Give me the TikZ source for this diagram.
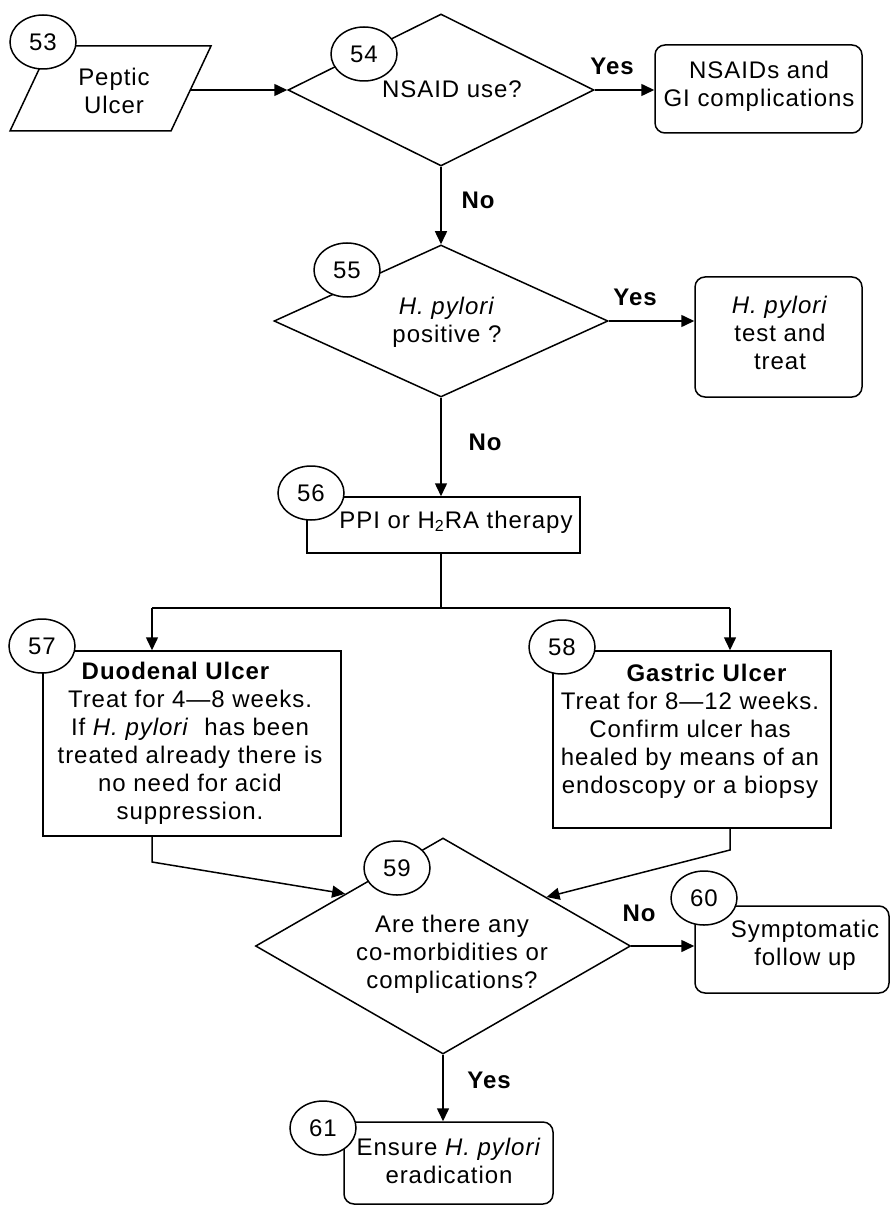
\documentclass[tikz,border=0pt]{standalone}
\usepackage{fontspec}
\setmainfont{Liberation Sans}[LetterSpace=4]
\usetikzlibrary{shapes.geometric,arrows.meta,calc}
\begin{document}
\begin{tikzpicture}[x=0.5pt,y=-0.5pt,
  line width=0.75pt,
  every node/.style={font=\fontsize{12}{14}\selectfont},
  txt/.style={align=center, inner sep=0pt},
  lbl/.style={font=\fontsize{12}{14}\selectfont\bfseries, inner sep=0pt},
  dec/.style={diamond, draw, inner sep=0pt},
  flowbox/.style={rectangle, draw, inner sep=0pt},
  rbox/.style={rectangle, draw, rounded corners=5pt, inner sep=0pt},
  num/.style={ellipse, draw, fill=white, inner sep=0pt, minimum width=33pt, minimum height=27pt},
  arr/.style={-{Triangle[length=6.5pt,width=6pt]}},
]
\useasboundingbox (0,0) rectangle (892,1208);

% shapes
\draw (10,131) -- (50,46) -- (211,46) -- (171,131) -- cycle;
\coordinate (p53) at (190,90);
\node[dec, minimum width=153pt, minimum height=76pt] (d54) at (441,90) {};
\node[rbox, minimum width=103.5pt, minimum height=44pt] (r54) at (758.5,89) {};
\node[dec, minimum width=167pt, minimum height=76pt] (d55) at (441,321) {};
\node[rbox, minimum width=83.5pt, minimum height=60pt] (r55) at (778.5,337) {};
\node[flowbox, minimum width=136.5pt, minimum height=28pt] (b56) at (443.5,525) {};
\node[flowbox, minimum width=149pt, minimum height=92.5pt] (b57) at (192,743.5) {};
\node[flowbox, minimum width=139pt, minimum height=88.5pt] (b58) at (692,739.5) {};
\node[dec, minimum width=187.5pt, minimum height=108pt] (d59) at (443,946) {};
\node[rbox, minimum width=97pt, minimum height=43.5pt] (r60) at (792,949.5) {};
\node[rbox, minimum width=104.5pt, minimum height=41pt] (r61) at (448.5,1163) {};

% texts
\node[txt] (t53) at (114,91) {Peptic\\Ulcer};
\node[txt] (t54) at (452,89) {NSAID use?};
\node[txt] (t54y) at (759,86) {NSAIDs and\\GI complications};
\node[txt] (t55) at (447,322) {\textit{H. pylori}\\positive ?};
\node[txt] (t55y) at (780,333) {\textit{H. pylori}\\test and\\treat};
\node[txt] (t56) at (456,522) {PPI or H\textsubscript{2}RA therapy};
\node[txt] (t57) at (190,743) {\textbf{Duodenal Ulcer}\hspace*{14pt}\\Treat for 4\textemdash 8 weeks.\\If \textit{H. pylori}\ \ has been\\treated already there is\\no need for acid\\suppression.};
\node[txt] (t58) at (690,731) {\hspace*{17pt}\textbf{Gastric Ulcer}\\Treat for 8\textemdash 12 weeks.\\Confirm ulcer has\\healed by means of an\\endoscopy\ or a biopsy};
\node[txt] (t59) at (452,954) {Are there any\\co-morbidities or\\complications?};
\node[txt] (t60) at (805,945) {Symptomatic\\follow up};
\node[txt] (t61) at (449,1161) {Ensure \textit{H. pylori}\\eradication};

% labels
\node[lbl] (y54) at (612,66) {Yes};
\node[lbl] (n54) at (478,200) {No};
\node[lbl] (y55) at (635,297) {Yes};
\node[lbl] (n55) at (485,442) {No};
\node[lbl] (n59) at (639,913) {No};
\node[lbl] (y59) at (489,1080) {Yes};

% connectors
\draw[arr] (p53) -- (d54.west);
\draw[arr] (d54.east) -- (d54.east -| r54.west);
\draw[arr] (d54.south) -- (d55.north);
\draw[arr] (d55.east) -- (d55.east -| r55.west);
\draw[arr] (d55.south) -- (d55.south |- b56.north);
\coordinate (sp) at (441,608);
\coordinate (j57) at (152,608);
\coordinate (j58) at (730,608);
\draw (b56.south -| sp) -- (sp);
\draw (j57) -- (j58);
\draw[arr] (j57) -- (j57 |- b57.north);
\draw[arr] (j58) -- (j58 |- b58.north);
\coordinate (k57) at (152,862);
\coordinate (k58) at (730,850);
\draw[arr] (b57.south -| k57) -- (k57) -- ($(d59.west)!0.48!(d59.north)$);
\draw[arr] (b58.south -| k58) -- (k58) -- ($(d59.north)!0.55!(d59.east)$);
\draw[arr] (d59.east) -- (d59.east -| r60.west);
\draw[arr] (d59.south) -- (d59.south |- r61.north);

% number circles
\node[num] (c53) at (43,42) {53};
\node[num] (c54) at (364,54) {54};
\node[num] (c55) at (347,270) {55};
\node[num] (c56) at (311,493) {56};
\node[num] (c57) at (42,646) {57};
\node[num] (c58) at (562,647) {58};
\node[num] (c59) at (397,868) {59};
\node[num] (c60) at (704,898) {60};
\node[num] (c61) at (323,1128) {61};
\end{tikzpicture}
\end{document}
